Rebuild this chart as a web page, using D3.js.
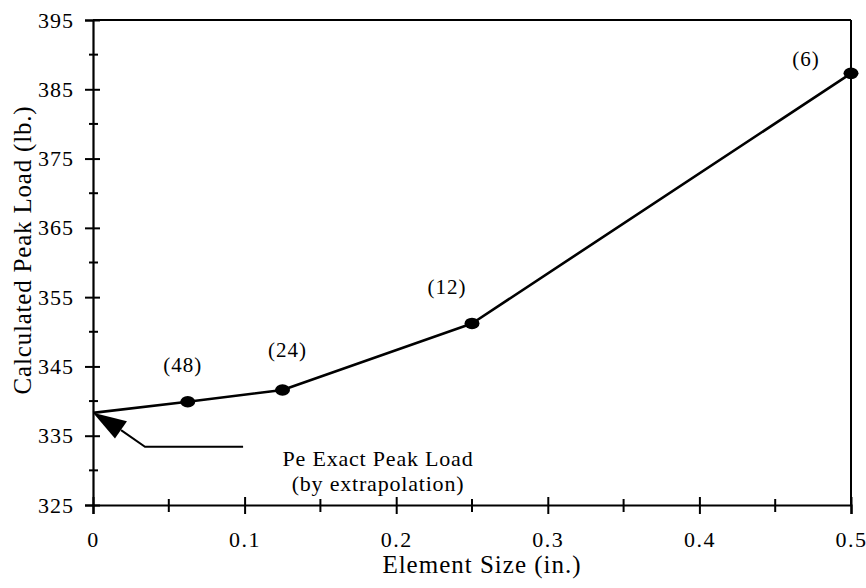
<!DOCTYPE html>
<html>
<head>
<meta charset="utf-8">
<script src="https://cdn.jsdelivr.net/npm/d3@7"></script>
<style>
  html, body { margin: 0; padding: 0; background: #fff; }
  svg { display: block; }
</style>
</head>
<body>
<div id="chart"></div>
<script>
// ---- data ----
const elementSize = [0.0625, 0.125, 0.25, 0.5];
const peakLoad = [339.9, 341.6, 351.2, 387.3];
const pointLabels = ["(48)", "(24)", "(12)", "(6)"];
const extrapolatedSize = 0;
const extrapolatedLoad = 338.3;
const yMajorTicks = [325, 335, 345, 355, 365, 375, 385, 395];
const yMinorTicks = [330, 340, 350, 360, 370, 380, 390];
const xMajorTicks = [0, 0.1, 0.2, 0.3, 0.4, 0.5];
const xMinorTicks = [0.05, 0.15, 0.25, 0.35, 0.45];
const xTickLabels = ["0", "0.1", "0.2", "0.3", "0.4", "0.5"];
const annotationLines = ["Pe Exact Peak Load", "(by extrapolation)"];
// arrow (data units): head tip, head corners, shaft path
const arrowHead = [[0, 338.3], [0.0224, 337.1], [0.0145, 334.6]];
const arrowShaft = [[0.0185, 335.8], [0.0343, 333.4], [0.099, 333.4]];

const W = 866, H = 588;
const m = { left: 93, right: 15, top: 20, bottom: 83 };
const FAM = "Liberation Serif";

const svg = d3.select("#chart").append("svg").attr("width", W).attr("height", H)
  .attr("font-family", FAM);

const x = d3.scaleLinear().domain([0, 0.5]).range([m.left, W - m.right]);
const y = d3.scaleLinear().domain([325, 395]).range([H - m.bottom, m.top]);

function serif(sel) {
  return sel.attr("font-family", FAM).style("font-family", "'" + FAM + "'");
}
// replace text-anchor middle/end with start + measured shift
function anchor(sel, frac) {
  sel.each(function () {
    const node = this;
    const s = d3.select(node);
    s.attr("text-anchor", "start");
    let len = 0;
    try { len = node.getComputedTextLength(); } catch (e) { len = 0; }
    if (!len) { s.attr("text-anchor", frac === 1 ? "end" : "middle"); return; }
    const x0 = +s.attr("x") || 0;
    s.attr("x", x0 - len * frac);
  });
  return sel;
}

const g = svg.append("g");

// frame: top and right
g.append("line").attr("x1", x(0)).attr("x2", x(0.5)).attr("y1", y(395)).attr("y2", y(395))
  .attr("stroke", "#000").attr("stroke-width", 2);
g.append("line").attr("x1", x(0.5)).attr("x2", x(0.5)).attr("y1", y(395)).attr("y2", y(325))
  .attr("stroke", "#000").attr("stroke-width", 2);

// y axis
const yAx = g.append("g").attr("transform", `translate(${x(0)},0)`)
  .call(d3.axisLeft(y).tickValues(yMajorTicks).tickSize(8).tickPadding(10).tickFormat(d3.format("d")));
serif(yAx).attr("text-anchor", "start");
yAx.select(".domain").attr("stroke-width", 2.2);
yAx.selectAll(".tick line").attr("x1", 7).attr("stroke-width", 2);
anchor(serif(yAx.selectAll(".tick text")).attr("font-size", 22).attr("letter-spacing", "1px").attr("x", -19), 1);
g.append("g").selectAll("line").data(yMinorTicks).join("line")
  .attr("x1", x(0) - 4).attr("x2", x(0) + 5).attr("y1", d => y(d)).attr("y2", d => y(d))
  .attr("stroke", "#000").attr("stroke-width", 2);

// x axis
const xAx = g.append("g").attr("transform", `translate(0,${y(325)})`)
  .call(d3.axisBottom(x).tickValues(xMajorTicks).tickSize(9).tickPadding(17)
    .tickFormat((d, i) => xTickLabels[i]));
serif(xAx).attr("text-anchor", "start");
xAx.select(".domain").attr("stroke-width", 2.2);
xAx.selectAll(".tick line").attr("y1", -8).attr("stroke-width", 2);
anchor(serif(xAx.selectAll(".tick text")).attr("font-size", 22).attr("letter-spacing", "1.5px").attr("x", 0), 0.5);
g.append("g").selectAll("line").data(xMinorTicks).join("line")
  .attr("x1", d => x(d)).attr("x2", d => x(d)).attr("y1", y(325) - 6).attr("y2", y(325) + 7)
  .attr("stroke", "#000").attr("stroke-width", 2);

// axis titles
anchor(serif(svg.append("text")).attr("x", 482).attr("y", 573)
  .attr("font-size", 25).attr("letter-spacing", "1px")
  .text("Element Size (in.)"), 0.5);
anchor(serif(svg.append("text")).attr("transform", `translate(31,${250}) rotate(-90)`).attr("x", 0)
  .attr("font-size", 25).attr("letter-spacing", "0.8px")
  .text("Calculated Peak Load (lb.)"), 0.5);

// data line
const lineData = [[extrapolatedSize, extrapolatedLoad]].concat(elementSize.map((d, i) => [d, peakLoad[i]]));
g.append("path").datum(lineData)
  .attr("d", d3.line().x(d => x(d[0])).y(d => y(d[1])))
  .attr("fill", "none").attr("stroke", "#000").attr("stroke-width", 2.6).attr("stroke-linejoin", "round");

// markers
g.append("g").selectAll("ellipse").data(elementSize).join("ellipse")
  .attr("cx", d => x(d)).attr("cy", (d, i) => y(peakLoad[i]))
  .attr("rx", 7.5).attr("ry", 5.8).attr("fill", "#000");

// point labels
const labelOffsets = [[-5, -30], [5, -33], [-25, -29], [-45, -7]];
anchor(serif(g.append("g").selectAll("text").data(pointLabels).join("text"))
  .attr("x", (d, i) => x(elementSize[i]) + labelOffsets[i][0])
  .attr("y", (d, i) => y(peakLoad[i]) + labelOffsets[i][1])
  .attr("font-size", 21)
  .attr("letter-spacing", "1px")
  .text(d => d), 0.5);

// arrow
g.append("polygon").attr("points", arrowHead.map(p => [x(p[0]), y(p[1])].join(",")).join(" "))
  .attr("fill", "#000");
g.append("path").datum(arrowShaft)
  .attr("d", d3.line().x(d => x(d[0])).y(d => y(d[1])))
  .attr("fill", "none").attr("stroke", "#000").attr("stroke-width", 2);

// annotation text
anchor(serif(g.append("g").selectAll("text").data(annotationLines).join("text"))
  .attr("x", 378).attr("y", (d, i) => 466 + i * 25)
  .attr("font-size", 22)
  .attr("letter-spacing", "0.8px")
  .text(d => d), 0.5);
</script>
</body>
</html>
